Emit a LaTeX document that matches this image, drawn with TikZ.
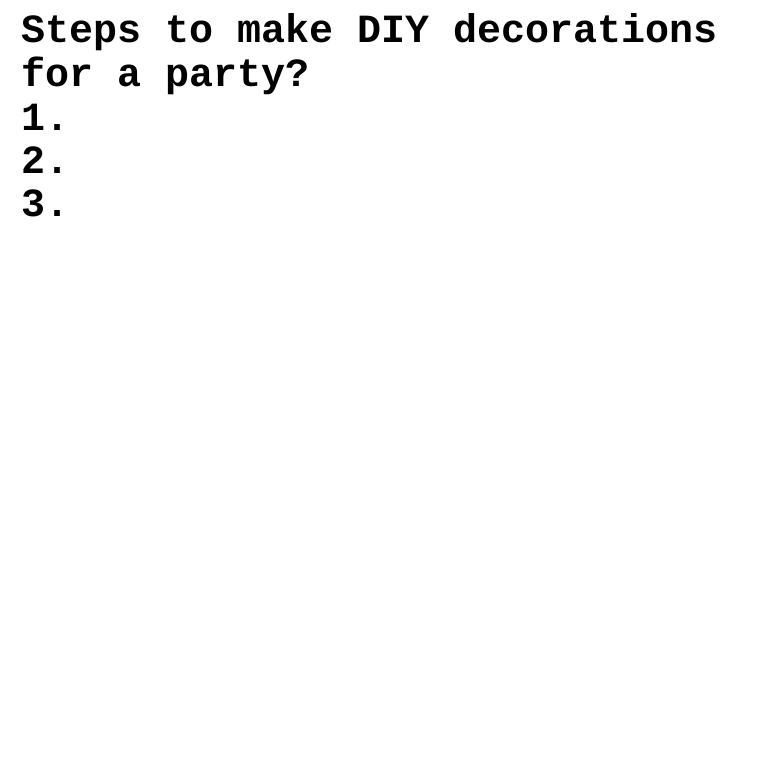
\documentclass[tikz,border=0pt]{standalone}
\usepackage{fontspec}
\setmonofont{Liberation Mono}
\begin{document}
\begin{tikzpicture}[x=1pt,y=1pt,
  txt/.style={anchor=base west,inner sep=0pt,font=\ttfamily\bfseries\fontsize{40}{44}\selectfont}]
\useasboundingbox[fill=white] (0,0) rectangle (760,760);
\node[txt] (l1) at (21,717) {Steps to make DIY decorations};
\node[txt] (l2) at (21,673) {for a party?};
\node[txt] (l3) at (21,629) {1.};
\node[txt] (l4) at (21,586) {2.};
\node[txt] (l5) at (21,543) {3.};
\end{tikzpicture}
\end{document}
